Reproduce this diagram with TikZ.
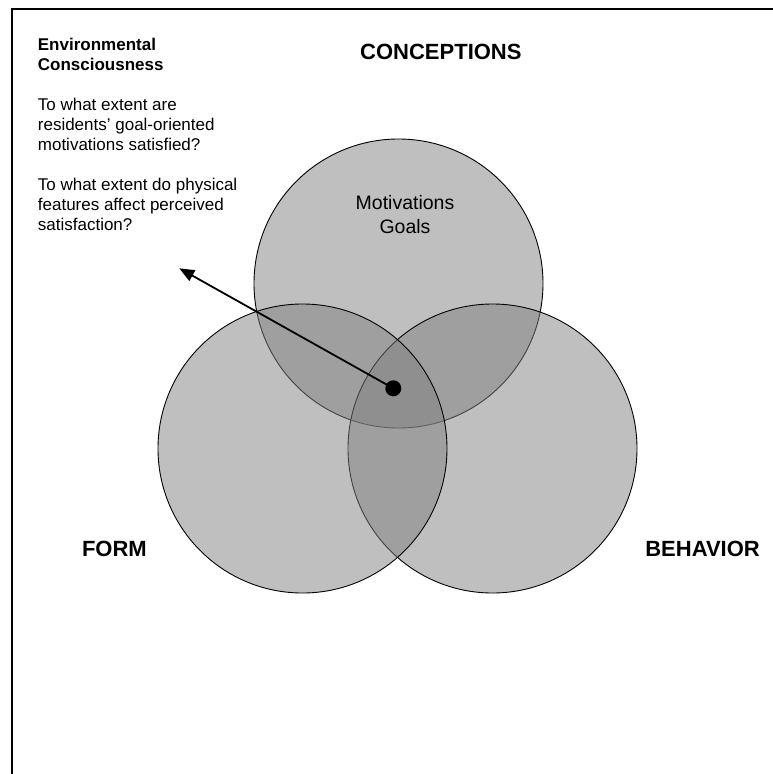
\documentclass[tikz,border=0pt]{standalone}
\usepackage{fontspec}
\setmainfont{Liberation Sans}
\usetikzlibrary{arrows.meta}
\begin{document}
\begin{tikzpicture}[x=1pt,y=-1pt,
  venn/.style={circle, minimum size=289pt, inner sep=0pt, fill=black!50,
               fill opacity=0.5, draw=black, line width=0.9pt},
  body/.style={font=\fontsize{17}{20}\selectfont, align=left, inner sep=0pt, anchor=base west},
  heading/.style={font=\fontsize{22}{26}\selectfont\bfseries, inner sep=0pt},
]
\useasboundingbox (0,0) rectangle (773,774);
\fill[white] (0,0) rectangle (773,774);

% open frame: left and top rules
\draw[line width=2pt] (12.3,774) -- (12.3,9) -- (773,9);

% three overlapping sets
\node[venn] (conceptions) at (398.5,283.5) {};
\node[venn] (behavior)    at (492.5,448.5) {};
\node[venn] (form)        at (302.5,448.5) {};

% set labels
\node[heading, anchor=base west] (lconc) at (360,59)  {CONCEPTIONS};
\node[heading, anchor=base east] (lform) at (147,556) {FORM};
\node[heading, anchor=base east] (lbeh)  at (760,556) {BEHAVIOR};

% multi-line nodes: the base anchor sits on the last line
\node[font=\fontsize{19.5}{24}\selectfont, align=center, inner sep=0pt, anchor=base]
  (motiv) at (405,233) {Motivations\\Goals};

% side notes
\node[body, font=\fontsize{17}{20}\selectfont\bfseries] (envc) at (37.7,70)
  {Environmental\\Consciousness};
\node[body] (q1) at (37.7,150)
  {To what extent are\\residents’ goal-oriented\\motivations satisfied?};
\node[body] (q2) at (37.7,230)
  {To what extent do physical\\features affect perceived\\satisfaction?};

% pointer from the common core
\node[circle, fill=black, minimum size=16pt, inner sep=0pt] (core) at (393.3,388.3) {};
\coordinate (ptr) at (179.3,268.3);
\draw[line width=1.8pt, -{Triangle[length=15pt,width=12pt]}] (core.center) -- (ptr);
\end{tikzpicture}
\end{document}
